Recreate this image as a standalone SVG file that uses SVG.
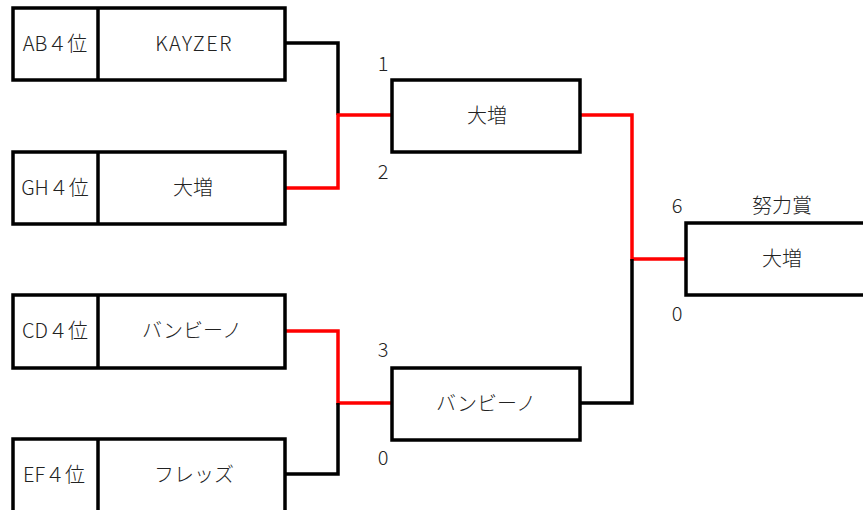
<svg xmlns="http://www.w3.org/2000/svg" width="863" height="510" viewBox="0 0 863 510">
<style>
.box{fill:#fff;stroke:#000;stroke-width:3.5}
.t{font-family:"Noto Sans CJK JP","Liberation Sans",sans-serif;font-size:20px;font-weight:300;fill:#222;text-anchor:middle;dominant-baseline:central}
.l{letter-spacing:1.5px}
.s{font-family:"Noto Sans CJK JP","Liberation Sans",sans-serif;font-size:20px;font-weight:300;fill:#222;text-anchor:middle;dominant-baseline:central}
.k{fill:none;stroke:#000;stroke-width:3.5}
.r{fill:none;stroke:#f00;stroke-width:3.5}
</style>
<rect width="863" height="510" fill="#fff"/>
<g id="connectors">
<polyline class="k" points="285,43 338,43 338,115"/>
<polyline class="r" points="285,188 338,188 338,115 392,115"/>
<polyline class="r" points="285,331 338,331 338,403 392,403"/>
<polyline class="k" points="285,474 338,474 338,403"/>
<polyline class="r" points="580,115 632,115 632,259 686,259"/>
<polyline class="k" points="632,259 632,403 580,403"/>
</g>
<g id="n-ab">
<rect class="box" x="13" y="8" width="272" height="72"/>
<line class="k" x1="98" y1="8" x2="98" y2="80"/>
<text class="t" x="55" y="42">AB４位</text>
<text class="t l" x="194" y="42">KAYZER</text>
</g>
<g id="n-gh">
<rect class="box" x="13" y="152" width="272" height="72"/>
<line class="k" x1="98" y1="152" x2="98" y2="224"/>
<text class="t" x="55" y="186">GH４位</text>
<text class="t" x="193" y="186">大増</text>
</g>
<g id="n-cd">
<rect class="box" x="13" y="295" width="272" height="73"/>
<line class="k" x1="98" y1="295" x2="98" y2="368"/>
<text class="t" x="55" y="329">CD４位</text>
<text class="t" x="192" y="329">バンビーノ</text>
</g>
<g id="n-ef">
<rect class="box" x="13" y="439" width="272" height="75"/>
<line class="k" x1="98" y1="439" x2="98" y2="514"/>
<text class="t" x="54" y="473">EF４位</text>
<text class="t" x="194" y="473">フレッズ</text>
</g>
<g id="n-semi1">
<rect class="box" x="392" y="80" width="188" height="72"/>
<text class="t" x="487" y="114">大増</text>
<text class="s" x="383" y="62">1</text>
<text class="s" x="383" y="170">2</text>
</g>
<g id="n-semi2">
<rect class="box" x="392" y="368" width="188" height="72"/>
<text class="t" x="486" y="402">バンビーノ</text>
<text class="s" x="383" y="348">3</text>
<text class="s" x="383" y="456">0</text>
</g>
<g id="n-final">
<rect class="box" x="686" y="223" width="190" height="72"/>
<text class="t" x="782" y="257">大増</text>
<text class="t" x="782" y="204">努力賞</text>
<text class="s" x="677" y="204">6</text>
<text class="s" x="677" y="312">0</text>
</g>
</svg>
